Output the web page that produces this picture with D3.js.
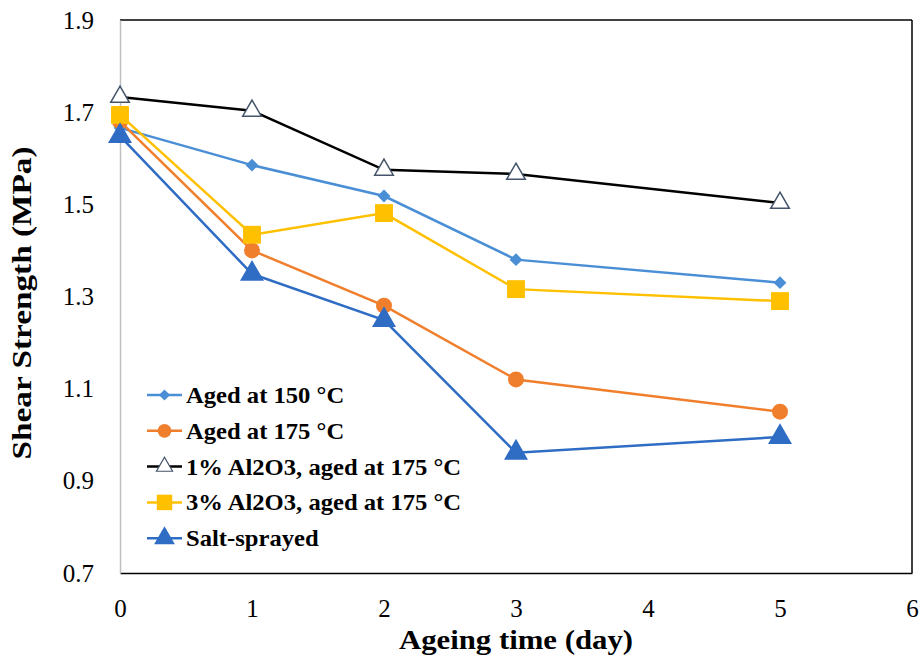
<!DOCTYPE html>
<html><head><meta charset="utf-8">
<script src="https://cdn.jsdelivr.net/npm/d3@7"></script>
<style>body{margin:0;background:#fff}svg{display:block}</style>
</head><body>
<script>
const days = [0, 1, 2, 3, 5];
const seriesNames = ["Aged at 150 °C", "Aged at 175 °C", "1% Al2O3, aged at 175 °C", "3% Al2O3, aged at 175 °C", "Salt-sprayed"];
const aged150 = [1.666, 1.585, 1.518, 1.38, 1.33];
const aged175 = [1.68, 1.40, 1.28, 1.12, 1.05];
const al1 = [1.733, 1.703, 1.575, 1.566, 1.503];
const al3 = [1.694, 1.434, 1.481, 1.316, 1.29];
const salt = [1.648, 1.349, 1.249, 0.961, 0.995];
const xTicks = [0, 1, 2, 3, 4, 5, 6];
const yTicks = [0.7, 0.9, 1.1, 1.3, 1.5, 1.7, 1.9];

const W = 922, H = 663;
const svg = d3.select("body").append("svg").attr("width", W).attr("height", H);
const x = d3.scaleLinear().domain([0, 6]).range([120, 912]);
const y = d3.scaleLinear().domain([0.7, 1.9]).range([573, 20]);
const serif = "'Liberation Serif','Times New Roman',serif";

// frame
svg.append("line").attr("x1", 120).attr("x2", 912).attr("y1", 20).attr("y2", 20).attr("stroke", "#000").attr("stroke-width", 1.5);
svg.append("line").attr("x1", 912).attr("x2", 912).attr("y1", 20).attr("y2", 573).attr("stroke", "#000").attr("stroke-width", 1.5);

const xAxis = svg.append("g").attr("transform", "translate(0,573)")
  .call(d3.axisBottom(x).tickValues(xTicks).tickSize(0).tickPadding(26).tickFormat(d3.format("d")));
xAxis.select(".domain").attr("stroke", "#000").attr("stroke-width", 1.5);
xAxis.selectAll("text").attr("font-family", serif).attr("font-size", 25).attr("fill", "#000");

const yAxis = svg.append("g").attr("transform", "translate(120,0)")
  .call(d3.axisLeft(y).tickValues(yTicks).tickSize(0).tickPadding(26).tickFormat(d3.format(".1f")));
yAxis.select(".domain").attr("stroke", "#bfbfbf").attr("stroke-width", 1.5);
yAxis.selectAll("text").attr("font-family", serif).attr("font-size", 25).attr("fill", "#000");

svg.append("text").attr("x", 516).attr("y", 649).attr("text-anchor", "middle")
  .attr("font-family", serif).attr("font-weight", "bold").attr("font-size", 28)
  .attr("textLength", 234).attr("lengthAdjust", "spacingAndGlyphs").text("Ageing time (day)");
svg.append("text").attr("transform", "translate(31,303) rotate(-90)").attr("text-anchor", "middle")
  .attr("font-family", serif).attr("font-weight", "bold").attr("font-size", 28)
  .attr("textLength", 313).attr("lengthAdjust", "spacingAndGlyphs").text("Shear Strength (MPa)");

const series = [
  {name: seriesNames[0], vals: aged150, line: "#4a8fd6", fill: "#4a8fd6", stroke: "none", type: "diamond", size: 105},
  {name: seriesNames[1], vals: aged175, line: "#f07f2d", fill: "#f07f2d", stroke: "none", type: "circle", size: 200},
  {name: seriesNames[2], vals: al1, line: "#000", fill: "#fff", stroke: "#44546a", type: "triangle", size: 150},
  {name: seriesNames[3], vals: al3, line: "#ffc000", fill: "#ffc000", stroke: "none", type: "square", size: 320},
  {name: seriesNames[4], vals: salt, line: "#2f6cc4", fill: "#2f6cc4", stroke: "none", type: "triangle", size: 250}
];
const symType = {diamond: d3.symbolDiamond2, circle: d3.symbolCircle, triangle: d3.symbolTriangle, square: d3.symbolSquare};
const lineGen = d3.line().x(d => x(d[0])).y(d => y(d[1]));

series.forEach(s => {
  const pts = days.map((d, i) => [d, s.vals[i]]);
  svg.append("path").datum(pts).attr("d", lineGen).attr("fill", "none").attr("stroke", s.line).attr("stroke-width", 2.5);
  svg.append("g").selectAll("path").data(pts).join("path")
    .attr("transform", d => `translate(${x(d[0])},${y(d[1])})`)
    .attr("d", d3.symbol().type(symType[s.type]).size(s.size))
    .attr("fill", s.fill).attr("stroke", s.stroke).attr("stroke-width", 1.5);
});

// legend
const leg = svg.append("g");
series.forEach((s, i) => {
  const ly = 395 + i * 35.8;
  leg.append("line").attr("x1", 147).attr("x2", 182).attr("y1", ly).attr("y2", ly).attr("stroke", s.line).attr("stroke-width", 2.5);
  leg.append("path").attr("transform", `translate(164.5,${ly})`)
    .attr("d", d3.symbol().type(symType[s.type]).size(s.size * 0.75))
    .attr("fill", s.fill).attr("stroke", s.stroke).attr("stroke-width", 1.2);
  const t = leg.append("text").attr("x", 186).attr("y", ly + 8).attr("font-family", serif)
    .attr("font-weight", "bold").attr("font-size", 23).text(s.name);
  const len = t.node().getComputedTextLength();
  t.attr("textLength", len * 1.07).attr("lengthAdjust", "spacingAndGlyphs");
});
</script>
</body></html>
